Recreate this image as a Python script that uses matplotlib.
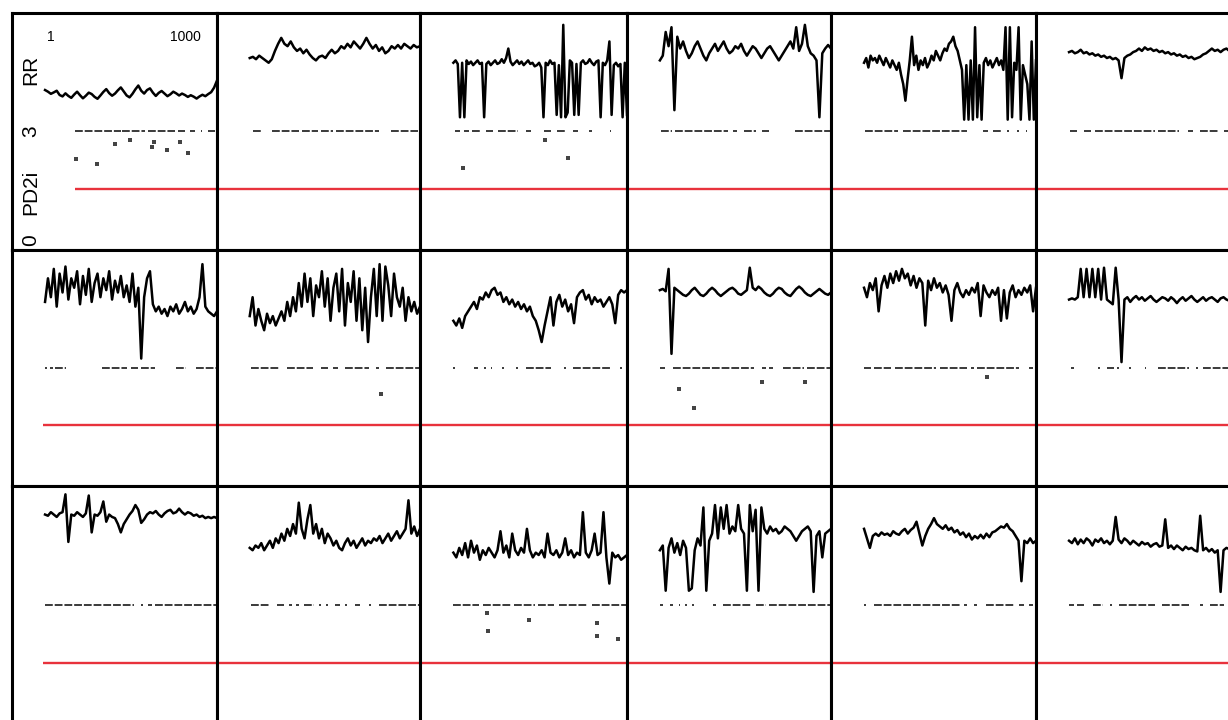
import numpy as np
import matplotlib
matplotlib.use("Agg")
import matplotlib.pyplot as plt
import matplotlib.transforms as mtransforms

plt.rcParams['font.family'] = ['Liberation Sans', 'DejaVu Sans']

# RR interval traces, 1000 beats per panel (values in % of panel height)
rr_row1 = [
    [67.5, 66.8, 65.9, 66.5, 67.2, 65.4, 64.8, 66.1, 65.0, 64.2, 65.6, 66.8, 65.3, 64.0, 65.1, 66.4, 65.8, 64.6, 63.8, 65.2,
     66.7, 67.9, 66.2, 65.1, 66.0, 67.4, 68.6, 66.9, 65.2, 64.4, 65.9, 67.8, 69.4, 67.2, 66.0, 67.5, 68.2, 66.4, 65.0, 66.3,
     67.1, 66.0, 64.9, 65.7, 66.8, 66.1, 65.2, 66.0, 65.4, 64.6, 65.3, 64.7, 63.9, 64.8, 65.5, 64.9, 65.8, 66.6, 68.5, 71.5],
    [81, 81.5, 80.5, 82, 81, 80, 79, 80.5, 84, 87, 89.5, 87, 86, 88, 85.5, 84, 85, 83, 84.5, 82.5, 81, 80, 81.5, 82, 81,
     83, 84.5, 83, 84, 86, 85, 87, 85.5, 88, 86.5, 85, 87, 89.5, 87, 85, 86.5, 84, 85.5, 83, 84, 86, 85, 86.5, 85, 87,
     86, 85, 86.5, 85.5, 86],
    [79, 80, 78.5, 56, 79, 56, 80, 78.5, 79.5, 78, 79, 80, 78.5, 79, 56, 78.5, 79.5, 78, 79, 80, 78.5, 79, 80.5, 79, 81,
     85, 79.5, 78, 79, 80, 78.5, 79.5, 78, 79, 80, 78.5, 79, 77.5, 78, 79, 77, 56, 79, 78, 80, 78.5, 79, 57, 78, 56,
     95, 56, 58, 80, 79, 57, 78.5, 57, 79, 80, 78.5, 79, 80.5, 79, 78, 79.5, 80, 56, 79, 78, 80, 88, 57, 78, 79,
     77.5, 78.5, 56, 79, 57],
    [80, 82, 92, 86, 94, 59, 90, 85, 88, 84, 81, 83, 86, 88, 85, 82, 80, 83, 85, 87, 84, 86, 88, 85, 83, 84, 86, 85, 87, 84,
     82, 84, 86, 85, 83, 81, 83, 85, 86, 84, 82, 80, 82, 84, 86, 88, 85, 94, 84, 87, 95, 86, 83, 82, 80, 56, 83, 85, 86.5, 85],
    [79, 81, 77, 82, 80, 81, 79, 82, 80, 78, 81, 79, 77, 80, 78, 76, 79, 74, 70, 63, 72, 80, 90, 78, 82, 76, 80, 78, 81, 77,
     79, 82, 80, 84, 82, 80, 83, 85, 84, 87, 88, 90, 86, 84, 80, 76, 55, 78, 55, 80, 55, 94, 56, 78, 55, 79, 81, 78, 80, 77,
     79, 81, 78, 80, 76, 94, 55, 94, 56, 79, 76, 94, 55, 78, 74, 70, 55, 88, 55, 80],
    [83.5, 84, 83, 83.5, 84.5, 83, 83.5, 82.5, 83, 82, 82.5, 81.5, 82, 81, 81.5, 80.5, 81, 80, 72.5, 81, 82, 82.5, 83.5, 84,
     85, 84, 85.5, 84.5, 85, 84, 84.5, 83.5, 84, 83, 83.5, 82.5, 83, 82, 82.5, 81.5, 82, 81, 81.5, 80.5, 81, 81.5, 82.5, 83,
     84, 85, 84, 84.5, 83.5, 84.5, 85, 84, 84.5, 85, 84, 84.5],
]
rr_row2 = [
    [78, 88, 80, 92, 76, 90, 82, 93, 79, 88, 84, 91, 77, 89, 81, 92, 78, 86, 90, 80, 88, 83, 91, 79, 87, 82, 89, 80, 85, 78,
     90, 76, 84, 54, 80, 88, 91, 77, 74, 76, 73, 75, 72, 76, 74, 77, 73, 75, 78, 74, 76, 73, 75, 80, 94, 76, 74, 73, 72, 74],
    [72, 80, 68, 75, 70, 66, 73, 69, 72, 68, 71, 74, 70, 78, 72, 80, 74, 86, 76, 90, 78, 88, 72, 85, 80, 91, 76, 88, 70, 84,
     90, 74, 92, 68, 86, 78, 91, 70, 88, 66, 84, 61, 80, 92, 72, 94, 70, 93, 85, 72, 90, 80, 76, 84, 70, 80, 74, 78, 73, 76],
    [70, 68, 71, 67, 72, 74, 76, 78, 75, 80, 79, 82, 80, 83, 84, 81, 82, 78, 80, 77, 79, 76, 78, 75, 77, 74, 76, 72, 70, 66,
     61, 68, 74, 80, 68, 78, 81, 76, 79, 74, 77, 69, 80, 82, 83, 79, 81, 77, 80, 78, 79, 76, 78, 80, 77, 69, 81, 83, 82, 83],
    [83, 83.5, 82.5, 92, 56, 84, 83, 82, 81, 80.5, 81.5, 83, 84, 82.5, 81, 80.5, 81.5, 83, 84, 83, 81.5, 80.5, 81.5, 82.5,
     83.5, 84, 83, 81.5, 81, 82, 83, 92.5, 84, 83, 84.5, 83.5, 82, 81, 80.5, 81.5, 83, 84, 83.5, 82, 81, 80.5, 82, 83.5,
     84.5, 83.5, 82, 81, 80.5, 81.5, 82.5, 83.5, 82.5, 81.5, 81, 82],
    [84, 80, 86, 83, 88, 74, 85, 89, 84, 90, 86, 91, 87, 92, 88, 90, 85, 89, 84, 88, 86, 68, 87, 83, 88, 84, 86, 82, 85, 81,
     70, 83, 86, 82, 80, 83, 81, 84, 82, 86, 72, 85, 82, 80, 83, 81, 84, 70, 83, 71, 82, 85, 80, 83, 81, 84, 82, 85, 74, 84],
    [79, 79.5, 79, 80, 92, 80, 92, 80, 92, 80, 92, 79, 92.5, 79, 78, 77, 92.5, 79, 52.5, 79, 80, 78, 79.5, 80.5, 79, 80,
     78.5, 79.5, 80.5, 79, 78, 79, 80, 79.5, 78.5, 80, 79, 77.5, 79, 80, 78.5, 79.5, 80.5, 79, 78, 79, 80, 78.5, 79.5, 80,
     79, 78, 79.5, 80, 79, 78.5, 79.5, 80, 79, 79.5],
]
rr_row3 = [
    [88, 87.5, 89, 88, 87, 88.5, 89, 96.5, 76.5, 88, 87.5, 89, 88, 87, 88.5, 96, 80.5, 88, 87.5, 89, 93.5, 85, 88, 87, 86.5,
     84, 80.5, 84, 86, 88, 89.5, 92, 90, 84.5, 86, 88, 89, 88.5, 89.5, 88, 87, 88.5, 89.5, 90, 88.5, 89, 90.5, 89, 88, 89,
     88.5, 87.5, 88, 87, 87.5, 86.5, 87, 86.5, 87, 86.5],
    [74, 73, 75, 74, 76, 73, 75, 77, 74, 78, 76, 80, 77, 82, 79, 84, 80, 93, 82, 78, 86, 92, 80, 84, 78, 82, 76, 80, 78, 75,
     77, 74, 73, 76, 78, 75, 77, 74, 76, 78, 75, 77, 76, 78, 77, 79, 76, 78, 80, 77, 79, 81, 78, 80, 82, 94, 80, 83, 79, 82],
    [72, 70, 74, 71, 76, 70, 77, 72, 75, 69, 73, 71, 74, 72, 70, 73, 81, 72, 75, 70, 80, 73, 71, 74, 72, 82, 73, 70, 72, 71,
     73, 70, 80, 72, 71, 73, 70, 72, 78, 71, 73, 70, 72, 71, 89, 72, 70, 73, 80, 71, 72, 89, 70, 59, 72, 70, 71, 69, 70, 71],
    [73, 75, 56, 74, 78, 72, 76, 71, 77, 74, 56, 57, 73, 78, 75, 91, 56, 77, 80, 92, 78, 91, 82, 92, 80, 83, 81, 92, 82, 80,
     56, 92, 81, 90, 56, 91, 82, 80, 83, 81, 82, 80, 81, 83, 82, 81, 79, 77, 79, 81, 82, 83, 81, 55.5, 79, 81, 70, 80, 81, 82],
    [82, 78, 74, 79, 80, 79, 80.5, 79.5, 80, 79, 81, 80, 79.5, 81, 82, 80, 81.5, 82.5, 85, 80, 75, 79, 82, 84, 86.5, 84, 83,
     82, 83.5, 81.5, 82.5, 80.5, 81.5, 79.5, 80.5, 78.5, 80, 77.5, 79, 78, 79.5, 78, 80, 78.5, 80.5, 81, 82, 83, 82.5, 84,
     82, 81, 79, 77, 60, 77, 76, 78, 76, 77],
    [77, 76, 78, 75.5, 77.5, 76, 78, 77, 75, 77.5, 76.5, 78, 76, 77, 75.5, 77, 87, 77.5, 76, 78, 77, 75.5, 77, 76, 75, 76.5,
     75.5, 76, 74.5, 75.5, 76, 74.5, 75, 86, 74, 75, 73.5, 75, 74, 73, 74.5, 73.5, 74, 73, 72.5, 87.5, 73, 74, 72.5, 73.5,
     72, 73, 55.5, 73, 74, 73.5, 74, 73, 74, 73.5],
]

# PD2i ~ 3: beat ranges where the PD2i line is drawn
pd_seg_row1 = [
    [(175, 440), (450, 580), (600, 755), (775, 815), (845, 875), (905, 915), (945, 990)],
    [(20, 70), (130, 290), (305, 400), (420, 490), (505, 760), (830, 990)],
    [(10, 40), (60, 90), (110, 160), (190, 230), (260, 370), (420, 450), (520, 560), (600, 650), (690, 720), (780, 800), (900, 910)],
    [(10, 70), (90, 400), (430, 450), (490, 560), (600, 640), (790, 1000)],
    [(5, 200), (230, 600), (690, 720), (750, 800), (830, 845), (890, 900), (940, 950)],
    [(5, 50), (90, 130), (150, 500), (520, 640), (690, 720), (760, 870), (900, 960)],
]
pd_seg_row2 = [
    [(0, 10), (30, 45), (60, 120), (330, 480), (500, 540), (560, 640), (760, 820), (880, 1000)],
    [(10, 180), (220, 370), (420, 460), (490, 520), (560, 700), (740, 760), (800, 1000)],
    [(0, 10), (120, 140), (180, 190), (215, 225), (280, 290), (360, 370), (420, 560), (640, 650), (690, 900), (960, 970)],
    [(0, 30), (80, 550), (600, 620), (640, 660), (720, 840), (860, 1000)],
    [(0, 40), (60, 160), (180, 420), (440, 600), (620, 640), (660, 900), (960, 980)],
    [(10, 30), (170, 180), (220, 260), (280, 290), (350, 360), (440, 450), (520, 700), (740, 750), (780, 1000)],
]
pd_seg_row3 = [
    [(0, 520), (560, 570), (600, 620), (640, 1000)],
    [(10, 120), (160, 200), (230, 250), (270, 290), (320, 380), (410, 420), (450, 460), (500, 530), (560, 570), (620, 650), (700, 710), (760, 1000)],
    [(0, 150), (170, 330), (350, 470), (490, 580), (610, 770), (800, 1000)],
    [(0, 20), (60, 80), (110, 120), (150, 160), (190, 200), (310, 330), (370, 540), (560, 620), (640, 1000)],
    [(0, 10), (60, 560), (580, 600), (640, 660), (710, 880), (900, 930), (960, 980)],
    [(0, 30), (50, 90), (140, 200), (240, 250), (290, 500), (540, 700), (760, 780), (820, 900)],
]
pd_level = 3.0

# low PD2i values: (row, col, beat, PD2i)
pd_dots = [
    (0, 0, 181, 2.23), (0, 0, 303, 2.09), (0, 0, 408, 2.64), (0, 0, 495, 2.75), (0, 0, 623, 2.56),
    (0, 0, 634, 2.70), (0, 0, 710, 2.47), (0, 0, 785, 2.70), (0, 0, 832, 2.40),
    (0, 2, 58, 1.98), (0, 2, 529, 2.75), (0, 2, 662, 2.26),
    (1, 1, 773, 2.26), (1, 3, 110, 2.42), (1, 3, 198, 1.87), (1, 3, 599, 2.61), (1, 3, 849, 2.59),
    (1, 4, 715, 2.75),
    (2, 2, 192, 2.78), (2, 2, 203, 2.28), (2, 2, 436, 2.59), (2, 2, 825, 2.50), (2, 2, 830, 2.14), (2, 2, 947, 2.06),
]

threshold = 1.4          # red PD2i line
red_start = [175, -10, -10]  # where the red line begins in the first column

rr_rows = [rr_row1, rr_row2, rr_row3]
seg_rows = [pd_seg_row1, pd_seg_row2, pd_seg_row3]

# layout in pixels (grid runs past the right and bottom edge of the image)
W, H = 1228, 720
col_edges = [12, 217, 420, 627, 831, 1036, 1241]
row_edges = [13, 250, 486, 724]

fig = plt.figure(figsize=(W / 100, H / 100), dpi=100)

axes = {}
for r in range(3):
    for c in range(6):
        x0, x1 = col_edges[c], col_edges[c + 1]
        y0, y1 = row_edges[r], row_edges[r + 1]
        ax = fig.add_axes([x0 / W, 1 - y1 / H, (x1 - x0) / W, (y1 - y0) / H])
        ax.set_xlim(-191, 1000)
        ax.set_ylim(-0.28, 6.26)
        ax.set_xticks([])
        ax.set_yticks([])
        for s in ax.spines.values():
            s.set_visible(False)

        # PD2i dashes
        for a, b in seg_rows[r][c]:
            ax.hlines(pd_level, a, b, color='#3a3a3a', lw=1.4, linestyles=(0, (4, 1)))
        for (rr_, cc_, bt, val) in pd_dots:
            if rr_ == r and cc_ == c:
                ax.plot(bt, val, 's', color='#444444', ms=2.2, mew=0)

        # red threshold line
        start = red_start[r] if c == 0 else -191
        ax.hlines(threshold, start, 1000, color='#e8323c', lw=1.7, zorder=3)

        # RR trace on its own scale
        axr = ax.twinx()
        axr.set_ylim(0, 100)
        axr.set_yticks([])
        axr.set_xticks([])
        vals = rr_rows[r][c]
        beats = np.linspace(1, 1000, len(vals))
        axr.plot(beats, vals, color='black', lw=1.8)
        for s in axr.spines.values():
            s.set_linewidth(2.2)
            s.set_color('black')
            s.set_zorder(5)
        axes[(r, c)] = ax

# labels on the first panel
ax0 = axes[(0, 0)]
blend = mtransforms.blended_transform_factory(ax0.transAxes, ax0.transData)
ax0.text(0.093, 0.76, 'RR', transform=ax0.transAxes, rotation=90, fontsize=15,
         ha='center', va='center')
ax0.text(0.093, 0.245, 'PD2i', transform=ax0.transAxes, rotation=90, fontsize=15,
         ha='center', va='center')
ax0.text(0.093, 3.0, '3', transform=blend, rotation=90, fontsize=15, ha='center', va='center')
ax0.text(0.093, 0.0, '0', transform=blend, rotation=90, fontsize=15, ha='center', va='center')
ax0.text(0.19, 0.90, '1', transform=ax0.transAxes, fontsize=10, ha='center', va='center')
ax0.text(0.845, 0.90, '1000', transform=ax0.transAxes, fontsize=10, ha='center', va='center')

fig.savefig('out.png', dpi=100)
